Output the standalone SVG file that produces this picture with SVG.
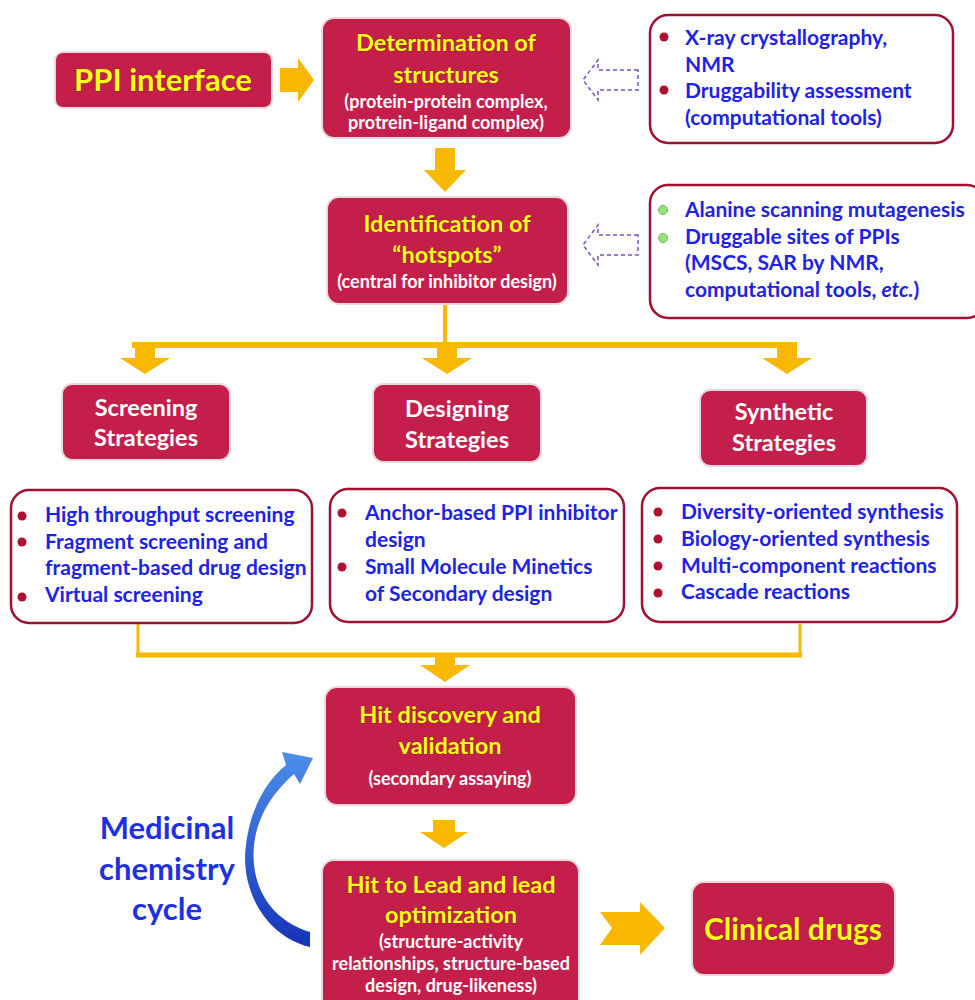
<svg xmlns="http://www.w3.org/2000/svg" width="975" height="1000" viewBox="0 0 975 1000">
<defs>
<style>
.box{fill:#c41f4b;stroke:#e9d9dc;stroke-width:2}
.lbox{fill:#fff;stroke:#a01030;stroke-width:2.5}
.ttl{font-family:Lato,"Liberation Sans",sans-serif;font-weight:bold;fill:#ffff1a;stroke:#7a1020;stroke-width:0.6;paint-order:stroke;text-anchor:middle;font-size:23.5px}
.sub{font-family:Lato,"Liberation Sans",sans-serif;font-weight:bold;fill:#fff;font-size:18px;text-anchor:middle}
.wt{font-family:Lato,"Liberation Sans",sans-serif;font-weight:bold;fill:#fff;font-size:23.5px;text-anchor:middle}
.li{font-family:Lato,"Liberation Sans",sans-serif;font-weight:bold;fill:#1e22e6;font-size:21px}
.bul{fill:#b01030}
.gb{fill:#9be07a;stroke:#6cbf50;stroke-width:1}
.ya{fill:#f9b800}
.yl{stroke:#f9b800;fill:none}
.da{fill:#fff;stroke:#7a50c8;stroke-width:1.5;stroke-dasharray:4 3}
.mc{font-family:Lato,"Liberation Sans",sans-serif;font-weight:bold;fill:#1e30e6;font-size:31px;text-anchor:middle}
</style>
<linearGradient id="bg" x1="0" y1="0" x2="0" y2="1">
<stop offset="0" stop-color="#4d8fea"/>
<stop offset="1" stop-color="#1533b8"/>
</linearGradient>
</defs>

<g id="connectors">
<path class="ya" d="M280,68 L298,68 L298,58 L314,80 L298,102 L298,92 L280,92 Z"/>
<path class="da" d="M638,70 L598,70 L598,60 L583,80 L598,100 L598,90 L638,90 Z"/>
<path class="ya" d="M435,148 L455,148 L455,170 L466,170 L445,192 L424,170 L435,170 Z"/>
<path class="da" d="M638,235 L598,235 L598,225 L583,245 L598,265 L598,255 L638,255 Z"/>
<line class="yl" x1="445" y1="305" x2="445" y2="345" stroke-width="4"/>
<line class="yl" x1="132" y1="345" x2="797" y2="345" stroke-width="6"/>
<path class="ya" d="M135,345 L155,345 L155,358 L170,358 L145,374 L120,358 L135,358 Z"/>
<path class="ya" d="M437,345 L457,345 L457,358 L472,358 L447,374 L422,358 L437,358 Z"/>
<path class="ya" d="M777,345 L797,345 L797,358 L812,358 L787,374 L762,358 L777,358 Z"/>
<line class="yl" x1="138" y1="624" x2="138" y2="657" stroke-width="3"/>
<line class="yl" x1="800" y1="624" x2="800" y2="657" stroke-width="3"/>
<line class="yl" x1="136" y1="655" x2="802" y2="655" stroke-width="5"/>
<path class="ya" d="M435,655 L455,655 L455,665 L470,665 L445,682 L420,665 L435,665 Z"/>
<path class="ya" d="M433,820 L455,820 L455,832 L468,832 L444,848 L420,832 L433,832 Z"/>
<path class="ya" d="M600,912 L640,912 L640,902 L665,928 L640,955 L640,945 L600,945 L612,928 Z"/>
<path fill="url(#bg)" d="M310,947 C262,935 240,885 246,845 C251,805 268,780 286,765 L282,752 L313,758 L300,784 L294,774 C276,790 258,812 254,845 C250,885 270,920 310,932 Z"/>
</g>

<g id="ppi">
<rect class="box" x="55" y="52" width="217" height="56" rx="8"/>
<text class="ttl" x="163" y="91" style="font-size:31px">PPI interface</text>
</g>

<g id="determination">
<rect class="box" x="322" y="18" width="249" height="120" rx="12"/>
<text class="ttl" x="446" y="51">Determination of</text>
<text class="ttl" x="446" y="83">structures</text>
<text class="sub" x="446" y="108">(protein-protein complex,</text>
<text class="sub" x="446" y="129">protrein-ligand complex)</text>
</g>

<g id="methods1">
<rect class="lbox" x="650" y="15" width="303" height="128" rx="18"/>
<circle class="bul" cx="664" cy="37" r="4.5"/>
<circle class="bul" cx="664" cy="90" r="4.5"/>
<text class="li" x="685" y="45">X-ray crystallography,</text>
<text class="li" x="685" y="72">NMR</text>
<text class="li" x="685" y="98">Druggability assessment</text>
<text class="li" x="685" y="125">(computational tools)</text>
</g>

<g id="identification">
<rect class="box" x="327" y="197" width="241" height="107" rx="12"/>
<text class="ttl" x="447" y="232">Identification of</text>
<text class="ttl" x="447" y="263">“hotspots”</text>
<text class="sub" x="447" y="288">(central for inhibitor design)</text>
</g>

<g id="methods2">
<rect class="lbox" x="650" y="185" width="335" height="133" rx="18"/>
<circle class="gb" cx="663" cy="210" r="4.5"/>
<circle class="gb" cx="663" cy="238" r="4.5"/>
<text class="li" x="685" y="217">Alanine scanning mutagenesis</text>
<text class="li" x="685" y="244">Druggable sites of PPIs</text>
<text class="li" x="685" y="270">(MSCS, SAR by NMR,</text>
<text class="li" x="685" y="297">computational tools, <tspan font-style="italic">etc.</tspan>)</text>
</g>

<g id="screening">
<rect class="box" x="62" y="384" width="168" height="76" rx="10"/>
<text class="wt" x="146" y="416">Screening</text>
<text class="wt" x="146" y="446">Strategies</text>
</g>
<g id="designing">
<rect class="box" x="373" y="384" width="168" height="78" rx="10"/>
<text class="wt" x="457" y="417">Designing</text>
<text class="wt" x="457" y="448">Strategies</text>
</g>
<g id="synthetic">
<rect class="box" x="700" y="390" width="167" height="76" rx="10"/>
<text class="wt" x="784" y="420">Synthetic</text>
<text class="wt" x="784" y="451">Strategies</text>
</g>

<g id="screening-list">
<rect class="lbox" x="11" y="490" width="301" height="133" rx="18"/>
<circle class="bul" cx="22" cy="516" r="4.5"/>
<circle class="bul" cx="22" cy="542" r="4.5"/>
<circle class="bul" cx="22" cy="597" r="4.5"/>
<text class="li" x="45" y="522">High throughput screening</text>
<text class="li" x="45" y="549">Fragment screening and</text>
<text class="li" x="45" y="575">fragment-based drug design</text>
<text class="li" x="45" y="602">Virtual screening</text>
</g>

<g id="designing-list">
<rect class="lbox" x="330" y="489" width="294" height="133" rx="18"/>
<circle class="bul" cx="342" cy="513" r="4.5"/>
<circle class="bul" cx="342" cy="567" r="4.5"/>
<text class="li" x="365" y="520">Anchor-based PPI inhibitor</text>
<text class="li" x="365" y="547">design</text>
<text class="li" x="365" y="574">Small Molecule Minetics</text>
<text class="li" x="365" y="601">of Secondary design</text>
</g>

<g id="synthetic-list">
<rect class="lbox" x="642" y="488" width="315" height="134" rx="18"/>
<circle class="bul" cx="658" cy="512" r="4.5"/>
<circle class="bul" cx="658" cy="539" r="4.5"/>
<circle class="bul" cx="658" cy="566" r="4.5"/>
<circle class="bul" cx="658" cy="593" r="4.5"/>
<text class="li" x="681" y="519">Diversity-oriented synthesis</text>
<text class="li" x="681" y="546">Biology-oriented synthesis</text>
<text class="li" x="681" y="573">Multi-component reactions</text>
<text class="li" x="681" y="599">Cascade reactions</text>
</g>

<g id="hit-discovery">
<rect class="box" x="325" y="687" width="251" height="118" rx="12"/>
<text class="ttl" x="450" y="723">Hit discovery and</text>
<text class="ttl" x="450" y="754">validation</text>
<text class="sub" x="450" y="785">(secondary assaying)</text>
</g>

<g id="hit-to-lead">
<rect class="box" x="322" y="860" width="257" height="150" rx="12"/>
<text class="ttl" x="451" y="893">Hit to Lead and lead</text>
<text class="ttl" x="451" y="923">optimization</text>
<text class="sub" x="451" y="948">(structure-activity</text>
<text class="sub" x="451" y="970">relationships, structure-based</text>
<text class="sub" x="451" y="992">design, drug-likeness)</text>
</g>

<g id="clinical">
<rect class="box" x="692" y="882" width="203" height="93" rx="12"/>
<text class="ttl" x="793" y="940" style="font-size:30px">Clinical drugs</text>
</g>

<g id="cycle-label">
<text class="mc" x="167" y="839">Medicinal</text>
<text class="mc" x="167" y="880">chemistry</text>
<text class="mc" x="167" y="920">cycle</text>
</g>
</svg>
